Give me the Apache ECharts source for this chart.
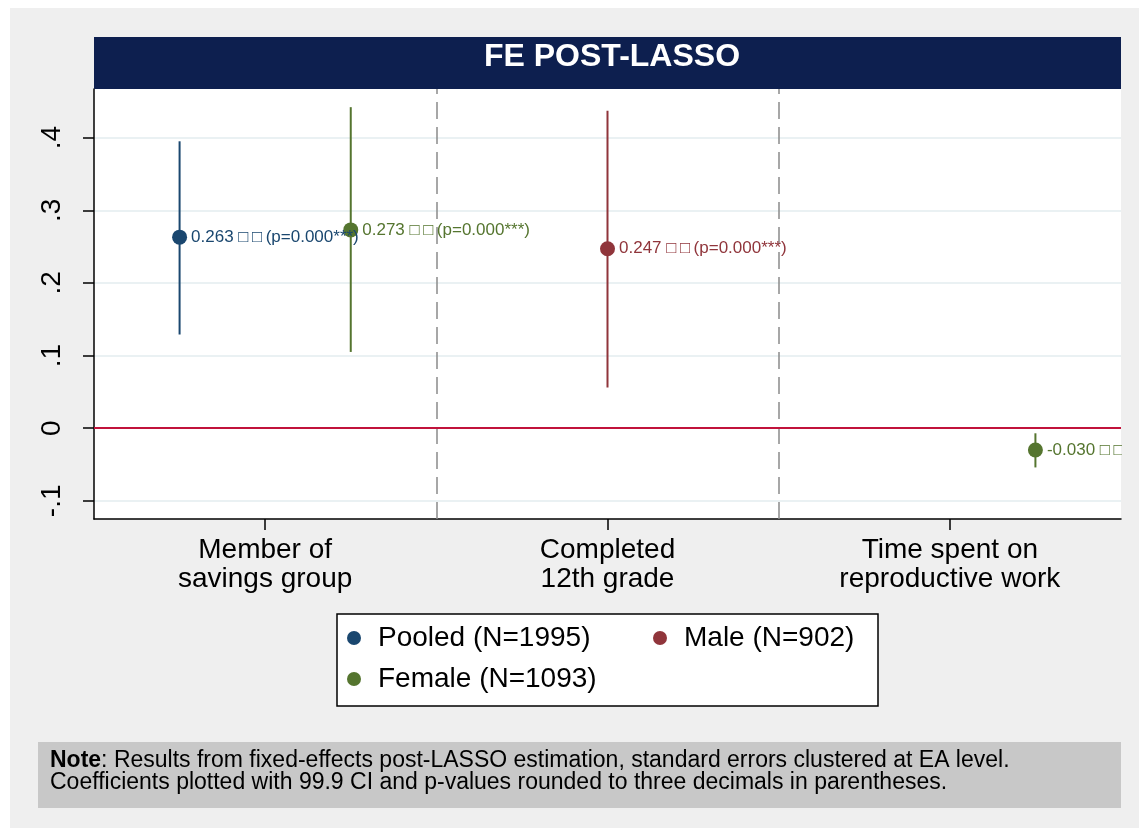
<!DOCTYPE html>
<html>
<head>
<meta charset="utf-8">
<script src="https://cdn.jsdelivr.net/npm/echarts@6/dist/echarts.min.js"></script>
<style>
html,body{margin:0;padding:0;background:#ffffff;}
#c{width:1139px;height:828px;}
</style>
</head>
<body>
<div id="c"></div>
<script>
// ---------------- data ----------------
const categories = ['Member of\nsavings group', 'Completed\n12th grade', 'Time spent on\nreproductive work'];
const groupNames = ['Pooled (N=1995)', 'Male (N=902)', 'Female (N=1093)'];

const pooledCoef = [0.263, null, null];
const pooledLo   = [0.129, null, null];
const pooledHi   = [0.395, null, null];
const pooledP    = ['0.000***', null, null];

const maleCoef = [null, 0.247, null];
const maleLo   = [null, 0.056, null];
const maleHi   = [null, 0.437, null];
const maleP    = [null, '0.000***', null];

const femaleCoef = [0.273, null, -0.030];
const femaleLo   = [0.105, null, -0.054];
const femaleHi   = [0.442, null, -0.007];
const femaleP    = ['0.000***', null, '0.000***'];

const yTicks = [-0.1, 0, 0.1, 0.2, 0.3, 0.4];
const yTickLabels = ['-.1', '0', '.1', '.2', '.3', '.4'];
const separators = [0.5, 1.5];

const noteTitle = 'Note';
const noteLine1 = ': Results from fixed-effects post-LASSO estimation, standard errors clustered at EA level.';
const noteLine2 = 'Coefficients plotted with 99.9 CI and p-values rounded to three decimals in parentheses.';
const chartTitle = 'FE POST-LASSO';

// ---------------- styling ----------------
const FONT = '"Liberation Sans", Arial, Helvetica, sans-serif';
const colors = ['#1a476f', '#90353b', '#55752f'];
const offsets = [-0.25, 0, 0.25];
const groups = [
  {coef: pooledCoef, lo: pooledLo, hi: pooledHi, p: pooledP},
  {coef: maleCoef, lo: maleLo, hi: maleHi, p: maleP},
  {coef: femaleCoef, lo: femaleLo, hi: femaleHi, p: femaleP}
];

const series = [];
const ciSeries = [];
groups.forEach((g, gi) => {
  const pts = [];
  const cis = [];
  g.coef.forEach((v, i) => {
    if (v === null) return;
    const txt = v.toFixed(3) + ' \u25A1\u2009\u25A1\u2009(p=' + g.p[i] + ')';
    pts.push({name: txt, value: [i + offsets[gi], v]});
    cis.push([i + offsets[gi], g.lo[i], g.hi[i]]);
  });
  const s = {
    type: 'scatter',
    name: groupNames[gi],
    xAxisIndex: 1, yAxisIndex: 0,
    symbol: 'circle', symbolSize: 15,
    itemStyle: {color: colors[gi], opacity: 1},
    z: 5,
    label: {
      show: true, position: 'right', distance: 4,
      formatter: '{b}', color: colors[gi],
      fontFamily: FONT, fontSize: 17
    },
    data: pts
  };
  if (gi === 0) {
    s.markLine = {
      silent: true, symbol: ['none', 'none'], animation: false,
      label: {show: false},
      data: [
        ...separators.map(x => ({xAxis: x, lineStyle: {color: '#8a8a8a', type: [17, 8], width: 1.5}})),
        {yAxis: 0, lineStyle: {color: '#c1133b', type: 'solid', width: 2}}
      ]
    };
  }
  series.push(s);
  ciSeries.push({
    type: 'custom',
    name: groupNames[gi],
    xAxisIndex: 1, yAxisIndex: 0,
    z: 4,
    renderItem: (params, api) => {
      const x = api.value(0), lo = api.value(1), hi = api.value(2);
      const a = api.coord([x, lo]), b = api.coord([x, hi]);
      return {type: 'line', shape: {x1: a[0], y1: a[1], x2: b[0], y2: b[1]},
              style: {stroke: colors[gi], lineWidth: 2}};
    },
    encode: {x: 0, y: [1, 2]},
    data: cis
  });
});

const chart = echarts.init(document.getElementById('c'), null, {renderer: 'canvas'});
chart.setOption({
  animation: false,
  backgroundColor: '#efefef',
  textStyle: {fontFamily: FONT},
  grid: {left: 94, right: 18, top: 89, bottom: 309, show: true, backgroundColor: '#ffffff', borderWidth: 0, containLabel: false},
  xAxis: [
    {
      type: 'category', data: categories, position: 'bottom',
      boundaryGap: true,
      axisLine: {show: true, onZero: false, lineStyle: {color: '#000', width: 1.5}},
      axisTick: {show: true, alignWithLabel: true, length: 11, lineStyle: {color: '#000', width: 1.5}},
      axisLabel: {interval: 0, fontSize: 28, lineHeight: 29, color: '#000', margin: 17, fontFamily: FONT},
      splitLine: {show: false}
    },
    {type: 'value', min: -0.5, max: 2.5, show: false, axisLine: {onZero: false}, splitLine: {show: false}}
  ],
  yAxis: [{
    type: 'value', min: -0.125, max: 0.467,
    axisLine: {show: true, onZero: false, lineStyle: {color: '#000', width: 1.5}},
    axisTick: {show: true, length: 11, customValues: yTicks, lineStyle: {color: '#000', width: 1.5}},
    axisLabel: {
      show: true, customValues: yTicks, rotate: 90, fontSize: 28, color: '#000', margin: 28, fontFamily: FONT,
      formatter: v => { const k = yTicks.findIndex(t => Math.abs(t - v) < 1e-9); return k >= 0 ? yTickLabels[k] : ''; }
    },
    splitLine: {show: true, lineStyle: {color: '#eaf1f3', width: 2}}
  }],
  legend: [
    {
      data: [groupNames[0], groupNames[2]], orient: 'vertical',
      left: 342, top: 618, itemWidth: 38, itemHeight: 14, itemGap: 11,
      icon: 'circle', selectedMode: false,
      textStyle: {fontSize: 28, lineHeight: 30, color: '#000', fontFamily: FONT}
    },
    {
      data: [groupNames[1]], orient: 'vertical',
      left: 648, top: 618, itemWidth: 38, itemHeight: 14, itemGap: 11,
      icon: 'circle', selectedMode: false,
      textStyle: {fontSize: 28, lineHeight: 30, color: '#000', fontFamily: FONT}
    }
  ],
  graphic: [
    {type: 'rect', z: 100, shape: {x: 0, y: 0, width: 10, height: 828}, style: {fill: '#ffffff'}},
    {type: 'rect', z: 100, shape: {x: 0, y: 0, width: 1139, height: 8}, style: {fill: '#ffffff'}},
    {type: 'rect', z: 99, shape: {x: 1122, y: 89, width: 17, height: 428}, style: {fill: '#efefef'}},
    {type: 'rect', z: 10, shape: {x: 94, y: 37, width: 1027, height: 52}, style: {fill: '#0d1f4f'}},
    {type: 'text', z: 11, x: 612, y: 57,
      style: {text: chartTitle, fill: '#ffffff', font: 'bold 32px ' + FONT, textAlign: 'center', textVerticalAlign: 'middle'}},
    {type: 'rect', z: 1, shape: {x: 337, y: 614, width: 541, height: 92}, style: {fill: '#ffffff', stroke: '#000', lineWidth: 1.5}},
    {type: 'rect', z: 1, shape: {x: 38, y: 742, width: 1083, height: 66}, style: {fill: '#c8c8c8'}},
    {type: 'text', z: 2, x: 50, y: 750,
      style: {
        text: '{b|' + noteTitle + '}' + noteLine1 + '\n' + noteLine2,
        fill: '#000', fontSize: 23, lineHeight: 22, fontFamily: FONT,
        rich: {b: {fontWeight: 'bold', fontSize: 23, lineHeight: 22, fontFamily: FONT, fill: '#000'}}
      }}
  ],
  series: series.concat(ciSeries)
});
</script>
</body>
</html>
